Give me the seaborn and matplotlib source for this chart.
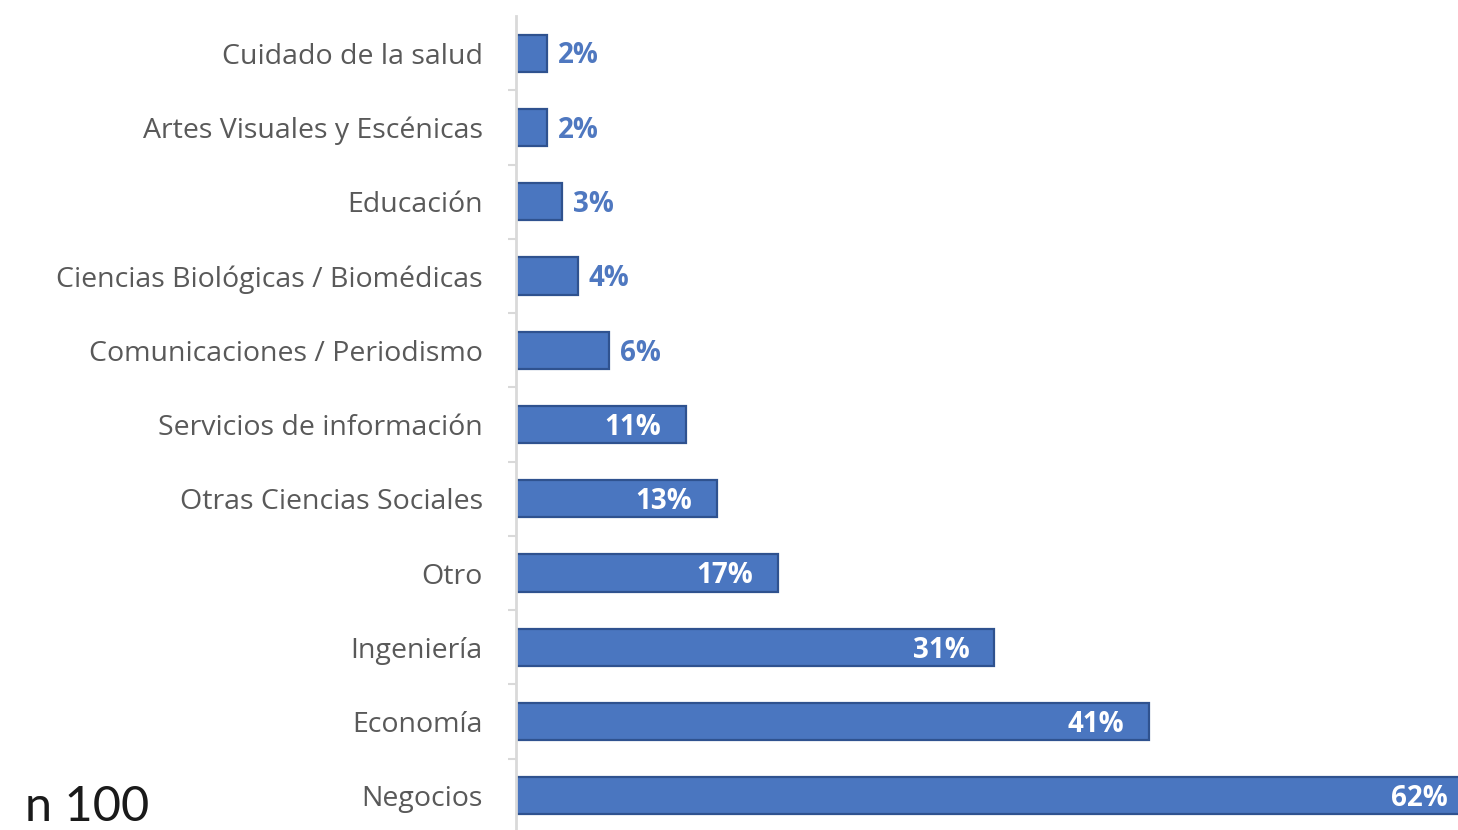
import matplotlib
matplotlib.use("Agg")
import matplotlib.pyplot as plt
import seaborn as sns
import pandas as pd
import numpy as np

categories = ["Cuidado de la salud", "Artes Visuales y Escénicas", "Educación",
              "Ciencias Biológicas / Biomédicas", "Comunicaciones / Periodismo",
              "Servicios de información", "Otras Ciencias Sociales", "Otro",
              "Ingeniería", "Economía", "Negocios"]
values = [2, 2, 3, 4, 6, 11, 13, 17, 31, 41, 62]
labels = [f"{v}%" for v in values]

df = pd.DataFrame({"cat": categories, "val": values})

sns.set_theme(style="white")
plt.rcParams['font.family'] = ['Open Sans', 'DejaVu Sans']

W, H = 1458, 830
fig = plt.figure(figsize=(W / 100, H / 100), dpi=100)
ax = fig.add_axes([516 / W, -3 / H, 957 / W, 817 / H])

sns.barplot(data=df, x="val", y="cat", orient="h", color="#4A76C0",
            width=0.5, edgecolor="#2F528F", linewidth=1.6, saturation=1, ax=ax)

ax.set_xlim(0, 62)
ax.set_ylim(len(categories) - 0.5, -0.5)
ax.set_xlabel("")
ax.set_ylabel("")
ax.set_xticks([])

for s in ["top", "right", "bottom"]:
    ax.spines[s].set_visible(False)
ax.spines["left"].set_color("#d9d9d9")
ax.spines["left"].set_linewidth(2)

ax.tick_params(axis="y", which="major", length=0, pad=24, labelsize=20.5,
               labelcolor="#595959")
ax.set_yticks(np.arange(len(categories) - 1) + 0.5, minor=True)
ax.tick_params(axis="y", which="minor", length=6, width=1.5, color="#d9d9d9",
               left=True)

for i, (v, lab) in enumerate(zip(values, labels)):
    if v >= 10:
        ax.annotate(lab, xy=(v, i), xytext=(-18, -2), textcoords="offset points",
                    ha="right", va="center", color="white", fontsize=20,
                    fontweight="bold")
    else:
        ax.annotate(lab, xy=(v, i), xytext=(8, -2), textcoords="offset points",
                    ha="left", va="center", color="#4F78C0", fontsize=20,
                    fontweight="bold")

fig.text(25 / W, 1 / H, "n 100", fontsize=35, color="#1a1a1a",
         ha="left", va="bottom", family=["Lato", "DejaVu Sans"])

fig.savefig("out.png", dpi=100)
